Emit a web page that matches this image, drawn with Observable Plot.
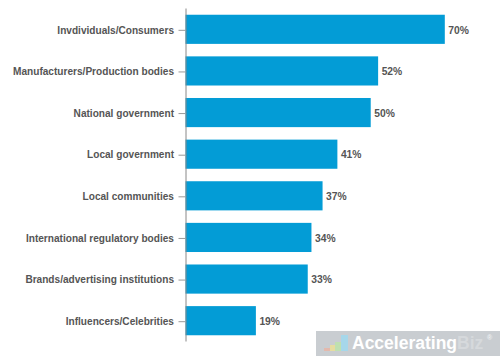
<!DOCTYPE html>
<html>
<head>
<meta charset="utf-8">
<script src="https://cdn.jsdelivr.net/npm/d3@7"></script>
<script src="https://cdn.jsdelivr.net/npm/@observablehq/plot@0.6"></script>
<style>
html,body{margin:0;padding:0;background:#fff;overflow:hidden}
#wrap{position:relative;width:500px;height:358px}
#wm{position:absolute;left:316px;top:331px;width:184px;height:25px;background:#c9cdd1;font:bold 17.5px "Liberation Sans",Arial,sans-serif;color:#fff;line-height:25px;white-space:nowrap}
#wm svg{position:absolute;left:8px;top:3px}
#wm span.t{position:absolute;left:36px;top:0}
#wm span.b{color:#d6d9dc}
#wm span.r{position:absolute;left:171px;top:-6px;font-size:7px;color:#eef0f1}
</style>
</head>
<body>
<div id="wrap"></div>
<script>
const categories = ["Invdividuals/Consumers","Manufacturers/Production bodies","National government","Local government","Local communities","International regulatory bodies","Brands/advertising institutions","Influencers/Celebrities"];
const values = [70,52,50,41,37,34,33,19];
const rows = categories.map((c,i)=>({category:c,value:values[i]}));
const chart = Plot.plot({
  width:500,height:358,
  marginLeft:185.5,marginRight:0,marginTop:8.5,marginBottom:16.5,
  style:{background:"transparent",fontFamily:"'Liberation Sans',Arial,sans-serif"},
  x:{domain:[0,84.9],axis:null},
  y:{domain:categories,paddingInner:0.3,paddingOuter:0.15,round:false,label:null,axis:null},
  marks:[
    Plot.barX(rows,{x:"value",y:"category",fill:"#039cd6"}),
    Plot.ruleX([0],{stroke:"#888",strokeWidth:1}),
    Plot.axisY({anchor:"left",tickSize:7,tickPadding:5,label:null,stroke:"#999",fontSize:10.1,fontWeight:"bold",fill:"#555",dy:0.5}),
    Plot.text(rows,{x:"value",y:"category",text:d=>d.value+"%",dx:3,dy:0.5,textAnchor:"start",fontSize:10.3,fontWeight:"bold",fill:"#555"})
  ]
});
const wrap=document.getElementById("wrap");
wrap.appendChild(chart);
const wm=document.createElement("div");
wm.id="wm";
wm.innerHTML='<svg width="26" height="18" viewBox="0 0 26 18"><path d="M0 17V14H6V17Z" fill="#e3b9ad"/><path d="M6 17V11H13V17Z" fill="#e6dca0"/><path d="M11 17V8H18V17Z" fill="#bfe0b0"/><path d="M17 17V1H24V17Z" fill="#a6d7ea"/></svg><span class="t">Accelerating<span class="b">Biz</span></span><span class="r">®</span>';
wrap.appendChild(wm);
</script>
</body>
</html>
